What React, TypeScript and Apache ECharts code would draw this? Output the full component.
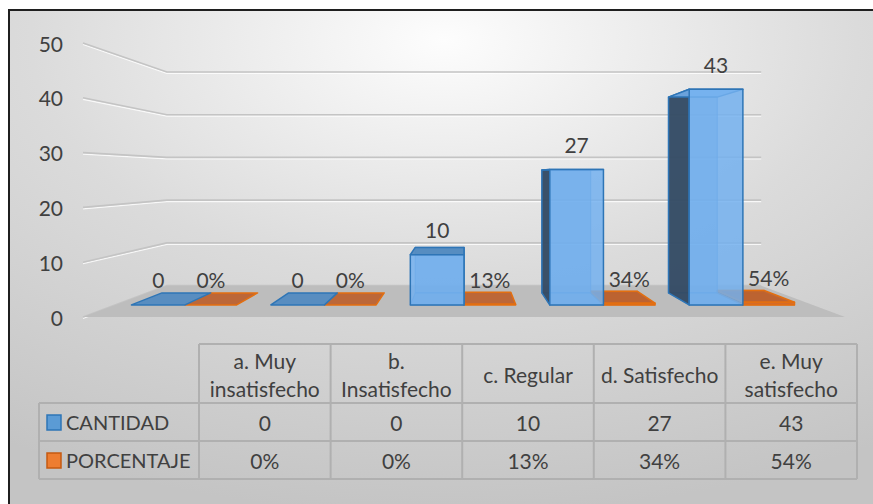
import React, { useEffect, useRef } from 'react';
import * as echarts from 'echarts';

// ---------- data ----------
const CATEGORIES = ['a. Muy\ninsatisfecho', 'b.\nInsatisfecho', 'c. Regular', 'd. Satisfecho', 'e. Muy\nsatisfecho'];
const CANTIDAD = [0, 0, 10, 27, 43];
const PORCENTAJE = [0, 0, 13, 34, 54]; // percent
const Y_TICKS = [0, 10, 20, 30, 40, 50];
const SERIES_NAMES = ['CANTIDAD', 'PORCENTAJE'];

// ---------- style ----------
const FONT = 'Lato, "Open Sans", sans-serif';
const FS = 21;
const TEXT = '#404040';
const F_BACK = 0.78;
const F_BAR_FRONT = 0.915;
const F_BAR_BACK = 0.831;
const V_REL_Y = 0.48;

type Pt = number[];
const vp = (cs: any): Pt => [cs.x + cs.width / 2, cs.y + cs.height * V_REL_Y];
const proj = (p: Pt, f: number, V: Pt): Pt => [V[0] + (p[0] - V[0]) * f, V[1] + (p[1] - V[1]) * f];

const poly = (points: Pt[], fill: string, stroke: string, lw = 1.5) => ({
  type: 'polygon',
  shape: { points },
  style: { fill, stroke, lineWidth: lw, lineJoin: 'round' },
});

const PALETTE = [
  {
    front: 'rgba(115,176,238,0.85)',
    back: 'rgba(95,155,215,0.55)',
    side: 'rgba(50,72,96,0.92)',
    top: 'rgba(82,138,192,0.95)',
    stroke: '#2e75b6',
    inner: 'rgba(60,130,200,0.6)',
  },
  {
    front: 'rgba(215,105,35,0.9)',
    back: 'rgba(190,95,40,0.8)',
    side: 'rgba(120,60,20,0.9)',
    top: 'rgba(188,98,48,0.95)',
    stroke: '#e36f10',
    inner: 'rgba(220,110,30,0.7)',
  },
];

function makeBarRender(si: number, labels: string[]) {
  return (params: any, api: any) => {
    const cs = params.coordSys;
    const V = vp(cs);
    const i = api.value(0);
    const val = api.value(1);
    const c = api.coord([i, 0]);
    const t = api.coord([i, val]);
    const bw = api.size([1, 0])[0];
    const x0 = si === 0 ? c[0] - 0.385 * bw : c[0];
    const x1 = si === 0 ? c[0] : c[0] + 0.37 * bw;
    const yb = c[1];
    const yt = t[1];
    const col = PALETTE[si];
    const P = (x: number, y: number, f: number) => proj([x, y], f, V);
    const fbl = P(x0, yb, F_BAR_FRONT), fbr = P(x1, yb, F_BAR_FRONT);
    const ftl = P(x0, yt, F_BAR_FRONT), ftr = P(x1, yt, F_BAR_FRONT);
    const bbl = P(x0, yb, F_BAR_BACK), bbr = P(x1, yb, F_BAR_BACK);
    const btl = P(x0, yt, F_BAR_BACK), btr = P(x1, yt, F_BAR_BACK);
    const children: any[] = [];
    const h = yb - yt;
    if (h > 1) {
      children.push(poly([bbl, bbr, btr, btl], col.back, col.inner, 1.2));
      children.push(poly([fbl, fbr, bbr, bbl], col.back, col.inner, 1.2));
    }
    if (x0 > V[0] && h > 1) children.push(poly([fbl, bbl, btl, ftl], col.side, col.stroke));
    if (x1 < V[0] && h > 1) children.push(poly([fbr, bbr, btr, ftr], col.side, col.stroke));
    if (yt > V[1]) children.push(poly([ftl, ftr, btr, btl], col.top, col.stroke));
    else children.push(poly([ftl, ftr, btr, btl], col.front, col.stroke));
    if (h > 0.5) children.push(poly([fbl, fbr, ftr, ftl], col.front, col.stroke));
    children.push({
      type: 'text',
      x: (ftl[0] + ftr[0]) / 2,
      y: ftl[1] - 25,
      style: {
        text: labels[params.dataIndex],
        fill: TEXT,
        font: `${FS}px ${FONT}`,
        align: 'center',
        verticalAlign: 'middle',
      },
    });
    return { type: 'group', children };
  };
}

// ---------- table ----------
const T_LEFT = 39;
const T_COL0 = 199;
const T_COLW = 131.6;
const T_ROWS = [344, 403, 441, 479];
const LINE = '#b0b0b0';

function buildTable(): any[] {
  const els: any[] = [];
  const right = T_COL0 + T_COLW * CATEGORIES.length;
  const hl = (y: number, x0: number) => ({
    type: 'line',
    shape: { x1: x0, y1: y, x2: right, y2: y },
    style: { stroke: LINE, lineWidth: 2 },
  });
  els.push(hl(T_ROWS[0], T_COL0));
  els.push(hl(T_ROWS[1], T_LEFT));
  els.push(hl(T_ROWS[2], T_LEFT));
  els.push(hl(T_ROWS[3], T_LEFT));
  els.push({
    type: 'line',
    shape: { x1: T_LEFT, y1: T_ROWS[1], x2: T_LEFT, y2: T_ROWS[3] },
    style: { stroke: LINE, lineWidth: 2 },
  });
  for (let k = 0; k <= CATEGORIES.length; k++) {
    const x = T_COL0 + T_COLW * k;
    els.push({
      type: 'line',
      shape: { x1: x, y1: T_ROWS[0], x2: x, y2: T_ROWS[3] },
      style: { stroke: LINE, lineWidth: 2 },
    });
  }
  const txt = (text: string, x: number, y: number, align = 'center', size = FS) => ({
    type: 'text',
    x,
    y,
    style: { text, fill: TEXT, font: `${size}px ${FONT}`, align, verticalAlign: 'middle', lineHeight: 28 },
  });
  CATEGORIES.forEach((c, k) => {
    els.push(txt(c, T_COL0 + T_COLW * (k + 0.5), (T_ROWS[0] + T_ROWS[1]) / 2 + 1));
  });
  const rows = [
    { name: SERIES_NAMES[0], vals: CANTIDAD.map((v) => String(v)), fill: '#5b9bd5', stroke: '#2e75b6' },
    { name: SERIES_NAMES[1], vals: PORCENTAJE.map((v) => v + '%'), fill: '#ed7d31', stroke: '#c55a11' },
  ];
  rows.forEach((r, ri) => {
    const cy = (T_ROWS[ri + 1] + T_ROWS[ri + 2]) / 2;
    els.push({
      type: 'rect',
      shape: { x: 47, y: cy - 7, width: 14, height: 15 },
      style: { fill: r.fill, stroke: r.stroke, lineWidth: 1.5 },
    });
    els.push(txt(r.name, 66, cy, 'left', 20));
    r.vals.forEach((v, k) => els.push(txt(v, T_COL0 + T_COLW * (k + 0.5), cy)));
  });
  return els;
}

export default function App() {
  const ref = useRef<HTMLDivElement>(null);
  useEffect(() => {
    if (!ref.current) return;
    const chart = echarts.init(ref.current, undefined, { renderer: 'svg' });
    const option: any = {
      animation: false,
      grid: { left: 83, right: 28, top: 43, bottom: 187, containLabel: false },
      xAxis: {
        type: 'category',
        data: CATEGORIES,
        show: false,
      },
      yAxis: {
        type: 'value',
        min: 0,
        max: 50,
        interval: 10,
        axisLine: { show: false },
        axisTick: { show: false },
        splitLine: { show: false },
        axisLabel: { color: TEXT, fontSize: FS, fontFamily: FONT, margin: 20 },
      },
      graphic: [
        {
          type: 'rect',
          z: -10,
          silent: true,
          shape: { x: 9, y: 10, width: 870, height: 500 },
          style: {
            fill: new echarts.graphic.RadialGradient(0.5, 0.06, 0.95, [
              { offset: 0, color: '#fdfdfd' },
              { offset: 0.25, color: '#ececec' },
              { offset: 0.5, color: '#dbdbdb' },
              { offset: 1, color: '#c4c4c4' },
            ]),
            stroke: '#1f1f1f',
            lineWidth: 2,
          },
        },
        ...buildTable(),
      ],
      series: [
        {
          type: 'custom',
          name: 'grid',
          z: 1,
          silent: true,
          data: Y_TICKS.map((v) => [0, v]),
          renderItem: (params: any, api: any) => {
            const cs = params.coordSys;
            const V = vp(cs);
            const y = api.coord([0, api.value(1)])[1];
            const front = [cs.x, y];
            const bl = proj(front, F_BACK, V);
            const br = proj([cs.x + cs.width, y], F_BACK, V);
            return {
              type: 'group',
              children: [
                {
                  type: 'polyline',
                  shape: { points: [[front[0], front[1] + 1.5], [bl[0], bl[1] + 1.5], [br[0], br[1] + 1.5]] },
                  style: { stroke: 'rgba(255,255,255,0.8)', lineWidth: 1.2, fill: null },
                },
                {
                  type: 'polyline',
                  shape: { points: [front, bl, br] },
                  style: { stroke: '#c4c4c4', lineWidth: 1.6, fill: null },
                },
              ],
            };
          },
        },
        {
          type: 'custom',
          name: 'floor',
          z: 2,
          silent: true,
          data: [[0, 0]],
          renderItem: (params: any, api: any) => {
            const cs = params.coordSys;
            const V = vp(cs);
            const y0 = api.coord([0, 0])[1];
            const fl = [cs.x, y0];
            const fr = [cs.x + cs.width, y0];
            return poly([fl, fr, proj(fr, F_BACK, V), proj(fl, F_BACK, V)], '#bdbdbd', 'rgba(0,0,0,0)', 0);
          },
        },
        {
          type: 'custom',
          name: SERIES_NAMES[1],
          z: 3,
          data: PORCENTAJE.map((v, i) => [i, v / 100]),
          renderItem: makeBarRender(1, PORCENTAJE.map((v) => v + '%')),
        },
        {
          type: 'custom',
          name: SERIES_NAMES[0],
          z: 4,
          data: CANTIDAD.map((v, i) => [i, v]),
          renderItem: makeBarRender(0, CANTIDAD.map((v) => String(v))),
        },
      ],
    };
    chart.setOption(option);
    return () => chart.dispose();
  }, []);
  return (
    <div
      ref={ref}
      style={{ position: 'fixed', left: 0, top: 0, width: 873, height: 504, background: '#ffffff' }}
    />
  );
}
